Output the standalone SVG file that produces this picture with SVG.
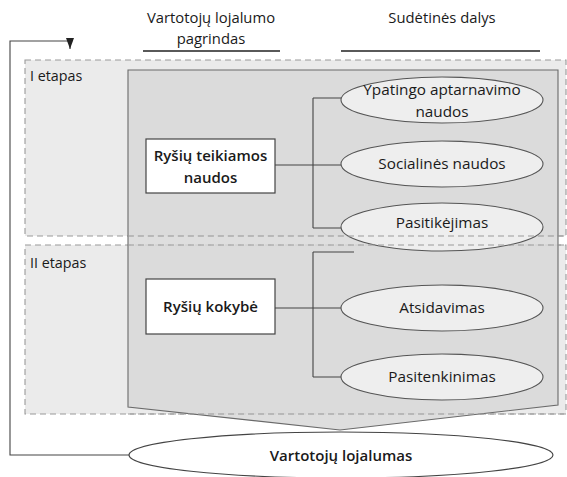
<svg xmlns="http://www.w3.org/2000/svg" width="567" height="477" viewBox="0 0 567 477">
<style>
text{font-family:"Open Sans","Noto Sans","Liberation Sans",sans-serif;fill:#1a1a1a}
.hd{font-size:14.8px;text-anchor:middle}
.st{font-size:14.3px}
.el{fill:#eeeeee;stroke:#555;stroke-width:1.1}
.et{font-size:15.3px;text-anchor:middle}
.bx{fill:#fff;stroke:#444;stroke-width:1.2}
.bt{font-size:15px;font-weight:600;text-anchor:middle}
.stage{fill:#ebebeb;stroke:#9a9a9a;stroke-width:1.1;stroke-dasharray:6 4}
.dl{stroke:#9a9a9a;stroke-width:1.1;stroke-dasharray:6 4}
.ln{fill:none;stroke:#444;stroke-width:1.1}
</style>
<defs>
<marker id="ah" markerWidth="10" markerHeight="12" refX="5" refY="11" orient="0" markerUnits="userSpaceOnUse">
<path d="M1,0 L5,11 L9,0 Z" fill="#222"/>
</marker>
</defs>
<g id="headers">
<text class="hd" x="211" y="23">Vartotojų lojalumo</text>
<text class="hd" x="211" y="44">pagrindas</text>
<line x1="143" y1="51" x2="280" y2="51" stroke="#222" stroke-width="1.3"/>
<text class="hd" x="442" y="23">Sudėtinės dalys</text>
<line x1="341" y1="51" x2="540" y2="51" stroke="#222" stroke-width="1.3"/>
</g>
<g id="stage1">
<rect class="stage" x="25" y="60" width="541" height="176"/>
<text class="st" x="30" y="81">I etapas</text>
</g>
<g id="stage2">
<rect class="stage" x="25" y="245" width="541" height="169"/>
<text class="st" x="30" y="268">II etapas</text>
</g>
<g id="frame">
<path d="M128,70 L558,70 L558,405 L340,430 L128,407 Z" fill="#d8d8d8" fill-opacity="0.85" stroke="#6a6a6a" stroke-width="1.1"/>
</g>
<g id="connectors">
<path class="ln" d="M275,165 L313,165 M313,98 L313,228 M313,98 L342,98 M313,165 L342,165 M313,228 L342,228"/>
<path class="ln" d="M275,308 L313,308 M313,252 L313,377 M313,252 L354,252 M313,308 L342,308 M313,377 L342,377"/>
<path class="ln" d="M129,455 L10,455 L10,41 L70,41 L70,49" marker-end="url(#ah)"/>
</g>
<g id="box1">
<rect class="bx" x="146" y="139" width="129" height="54"/>
<text class="bt" x="210.5" y="161">Ryšių teikiamos</text>
<text class="bt" x="210.5" y="183">naudos</text>
</g>
<g id="box2">
<rect class="bx" x="146" y="279" width="129" height="55"/>
<text class="bt" x="210.5" y="312">Ryšių kokybė</text>
</g>
<g id="e1">
<ellipse class="el" cx="442" cy="100" rx="101" ry="23"/>
<text class="et" x="442" y="95">Ypatingo aptarnavimo</text>
<text class="et" x="442" y="117">naudos</text>
</g>
<g id="e2">
<ellipse class="el" cx="442" cy="164" rx="101" ry="23"/>
<text class="et" x="442" y="169">Socialinės naudos</text>
</g>
<g id="e3">
<ellipse class="el" cx="442" cy="227" rx="101" ry="24"/>
<text class="et" x="442" y="228">Pasitikėjimas</text>
</g>
<g id="e4">
<ellipse class="el" cx="442" cy="308" rx="101" ry="23"/>
<text class="et" x="442" y="313">Atsidavimas</text>
</g>
<g id="e5">
<ellipse class="el" cx="442" cy="377" rx="101" ry="23"/>
<text class="et" x="442" y="382">Pasitenkinimas</text>
</g>
<g id="stage-lines">
<line class="dl" x1="128" y1="236" x2="566" y2="236"/>
<line class="dl" x1="128" y1="245" x2="566" y2="245"/>
<line class="dl" x1="128" y1="414" x2="566" y2="414"/>
</g>
<g id="result">
<ellipse cx="341" cy="455" rx="212" ry="23" fill="#fff" stroke="#444" stroke-width="1.1"/>
<text class="bt" x="341" y="461">Vartotojų lojalumas</text>
</g>
</svg>
